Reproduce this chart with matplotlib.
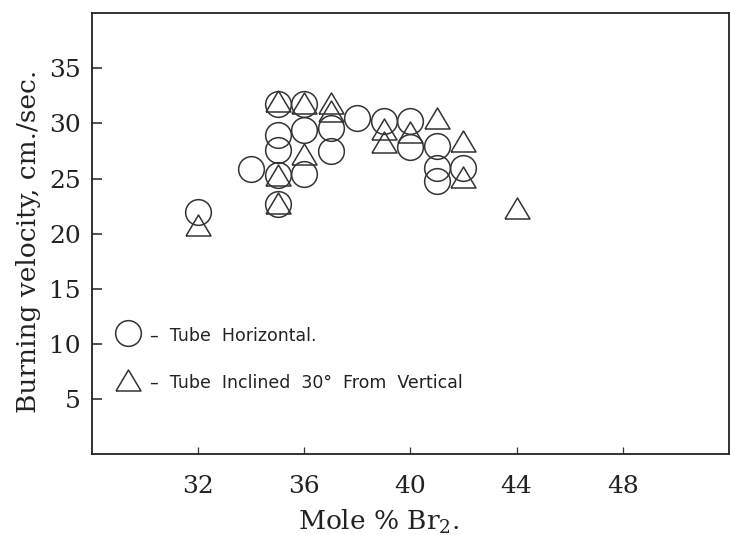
import matplotlib
matplotlib.use("Agg")
import matplotlib.pyplot as plt
from matplotlib.lines import Line2D

# Tube horizontal (circles)
horiz_x = [32, 34, 35, 35, 35, 35, 35, 36, 36, 36, 37, 37, 38, 39, 40, 40, 41, 41, 41, 42]
horiz_y = [22.0, 25.9, 31.8, 29.0, 27.6, 25.3, 22.7, 31.8, 29.4, 25.4,
           29.6, 27.5, 30.5, 30.2, 30.2, 27.9, 28.0, 26.0, 24.8, 26.0]

# Tube inclined 30 deg from vertical (triangles)
incl_x = [32, 35, 35, 35, 36, 36, 37, 37, 39, 39, 40, 41, 42, 42, 44]
incl_y = [20.8, 32.0, 25.3, 22.8, 31.9, 27.2, 31.9, 31.1, 29.5, 28.3,
          29.2, 30.5, 28.4, 25.1, 22.3]

x_ticks = [32, 36, 40, 44, 48]
y_ticks = [5, 10, 15, 20, 25, 30, 35]

plt.rcParams['mathtext.fontset'] = 'dejavuserif'

ink = '#333333'
tri = [(-1, -0.84), (1, -0.84), (0, 0.84), (-1, -0.84)]
mk = dict(linestyle='none', markerfacecolor='none', markeredgecolor=ink,
          markeredgewidth=1.1)

fig = plt.figure(figsize=(7.3, 5.35), dpi=100)
ax = fig.add_axes([0.1256, 0.1514, 0.8730, 0.8237])

ax.plot(horiz_x, horiz_y, marker='o', markersize=18.5, **mk)
ax.plot(incl_x, incl_y, marker=tri, markersize=18, **mk)

ax.set_xlim(28, 52)
ax.set_ylim(0, 40)
ax.set_xticks(x_ticks)
ax.set_yticks(y_ticks)

for s in ax.spines.values():
    s.set_linewidth(1.3)
    s.set_color('#222222')

ax.tick_params(axis='y', direction='in', length=7, width=1.2, color='#333333',
               pad=8, labelsize=18, left=True, right=False)
ax.tick_params(axis='x', direction='in', length=5, width=0.9, color='#333333',
               pad=15, labelsize=18, bottom=True, top=False)
for lab in ax.get_xticklabels() + ax.get_yticklabels():
    lab.set_family('DejaVu Serif')
    lab.set_color('#222222')

ax.set_ylabel('Burning velocity, cm./sec.', family='DejaVu Serif', fontsize=19,
              color='#222222')
ax.yaxis.set_label_coords(-0.079, 0.483)
ax.set_xlabel('Mole % Br$_2$.', family='DejaVu Serif', fontsize=19,
              color='#222222')
ax.xaxis.set_label_coords(0.451, -0.121)

handles = [
    Line2D([], [], marker='o', markersize=18.5, **mk),
    Line2D([], [], marker=tri, markersize=18, **mk),
]
labels = ['\u2013  Tube  Horizontal.', '\u2013  Tube  Inclined  30\u00b0  From  Vertical']
leg = ax.legend(handles, labels, loc='center left', bbox_to_anchor=(0.0383, 0.216),
                frameon=False, fontsize=12.5, handlelength=1.4, handletextpad=0.55,
                handleheight=1.5, labelspacing=1.51, borderpad=0, borderaxespad=0)
for t in leg.get_texts():
    t.set_color('#222222')

fig.savefig('out.png', dpi=100)
